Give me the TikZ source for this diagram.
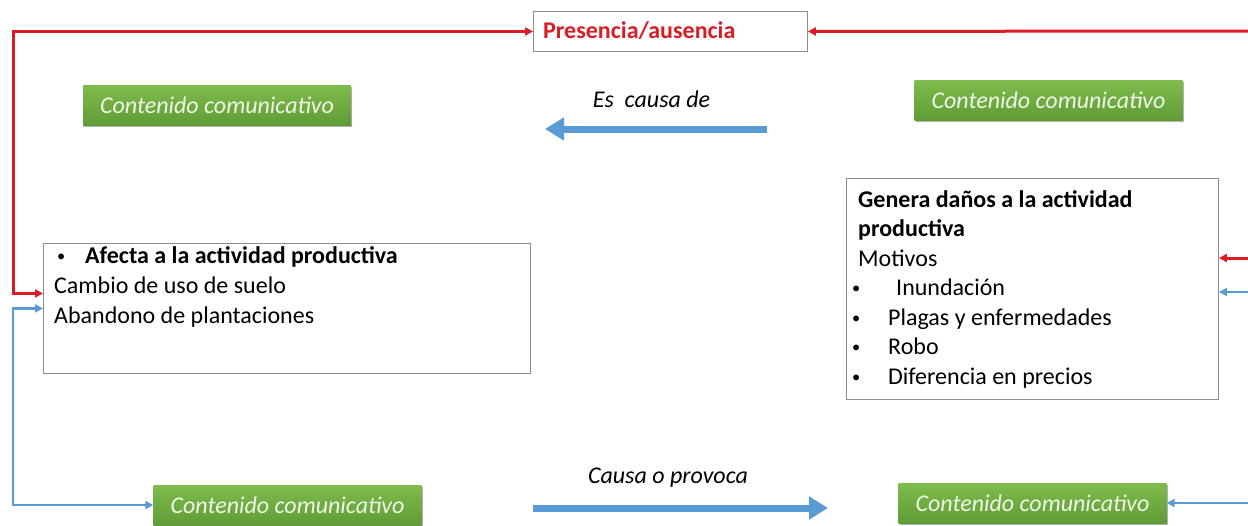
\documentclass[tikz,border=0pt]{standalone}
\usepackage{fontspec}
\setmainfont{Carlito}
\usetikzlibrary{arrows.meta,shadows}
\definecolor{redc}{RGB}{218,28,36}
\definecolor{bluec}{RGB}{91,155,213}
\definecolor{gtop}{RGB}{126,188,76}
\definecolor{gbot}{RGB}{96,156,54}
\definecolor{gtext}{RGB}{240,247,232}
\definecolor{grayb}{RGB}{140,140,140}
\newcommand{\smbul}{\raisebox{1.8pt}{\scalebox{0.68}{•}}}
\tikzset{
  graybox/.style={draw=grayb, line width=0.9pt, fill=white, inner sep=0pt, anchor=north west},
  greenbox/.style={top color=gtop, bottom color=gbot, draw=none, text=gtext,
    font=\itshape, inner sep=0pt, minimum width=268pt, minimum height=40pt,
    drop shadow={shadow xshift=1pt, shadow yshift=-2pt, opacity=0.3, fill=black}},
  txt/.style={anchor=base west, inner sep=0pt},
  redline/.style={draw=redc, line width=3pt},
  blueline/.style={draw=bluec, line width=2.6pt},
  smalltip/.style={-{Triangle[length=8pt,width=8pt]}},
  bothtip/.style={{Triangle[length=8pt,width=8pt]}-{Triangle[length=8pt,width=8pt]}},
  bigarrow/.style={draw=bluec, line width=7pt, -{Triangle[length=19pt,width=22pt]}},
  lbl/.style={anchor=base, inner sep=0pt, font=\itshape}
}
\begin{document}
\begin{tikzpicture}[x=1pt,y=-1pt]
\fontsize{24}{29.5}\selectfont
\useasboundingbox (0,0) rectangle (1248,525);
\fill[white] (0,0) rectangle (1248,525);

% boxes
\node[graybox, minimum width=274pt, minimum height=40pt] (P) at (533,11) {};
\node[txt, text=redc, font=\bfseries] (ptxt) at (543,38) {Presencia/ausencia};

\node[graybox, minimum width=487pt, minimum height=130pt] (L) at (43,243) {};
\node[txt] (l1) at (57,263) {\makebox[28pt][l]{\smbul}\textbf{Afecta a la actividad productiva}};
\node[txt] (l2) at (54,293) {Cambio de uso de suelo};
\node[txt] (l3) at (54,323) {Abandono de plantaciones};

\node[graybox, minimum width=372pt, minimum height=221pt] (R) at (846,178) {};
\node[txt, font=\bfseries] (r1) at (858,207) {Genera daños a la actividad};
\node[txt, font=\bfseries] (r2) at (858,236.5) {productiva};
\node[txt] (r3) at (858,266) {Motivos};
\node[txt] (r4b) at (852,295.5) {\smbul};
\node[txt] (r4) at (896,295.5) {Inundación};
\node[txt] (r5) at (852,325) {\makebox[36pt][l]{\smbul}Plagas y enfermedades};
\node[txt] (r6) at (852,354.5) {\makebox[36pt][l]{\smbul}Robo};
\node[txt] (r7) at (852,384) {\makebox[36pt][l]{\smbul}Diferencia en precios};

% green boxes
\node[greenbox] (g1) at (217,105) {Contenido comunicativo};
\node[greenbox] (g2) at (1048.5,100) {Contenido comunicativo};
\node[greenbox] (g3) at (287.5,505) {Contenido comunicativo};
\node[greenbox] (g4) at (1032.5,503) {Contenido comunicativo};

% labels and big arrows
\node[lbl] (t1) at (651.5,107) {Es\ \ causa de};
\node[lbl] (t2) at (668,483) {Causa o provoca};
\coordinate (a1s) at (767,129);
\coordinate (a1e) at (545,129);
\coordinate (a2s) at (533,508);
\coordinate (a2e) at (828,508);
\draw[bigarrow] (a1s) -- (a1e);
\draw[bigarrow] (a2s) -- (a2e);

% edge coordinates
\coordinate (E1) at (1248,31);
\coordinate (E2) at (1248,258);
\coordinate (E3) at (1248,292);
\coordinate (E4) at (1248,503);

% red connectors
\draw[redline, bothtip] ([yshift=15pt]L.west) -- ++(-30,0) |- (P.west);
\draw[redline, smalltip] (E1) -- (P.east);
\draw[redline, smalltip] (E2) -- (E2 -| R.east);

% blue connectors
\draw[blueline, bothtip] (L.west) -- ++(-30,0) |- (g3.west);
\draw[blueline, smalltip] (E3) -- (E3 -| R.east);
\draw[blueline, smalltip] (E4) -- (g4.east);
\end{tikzpicture}
\end{document}
